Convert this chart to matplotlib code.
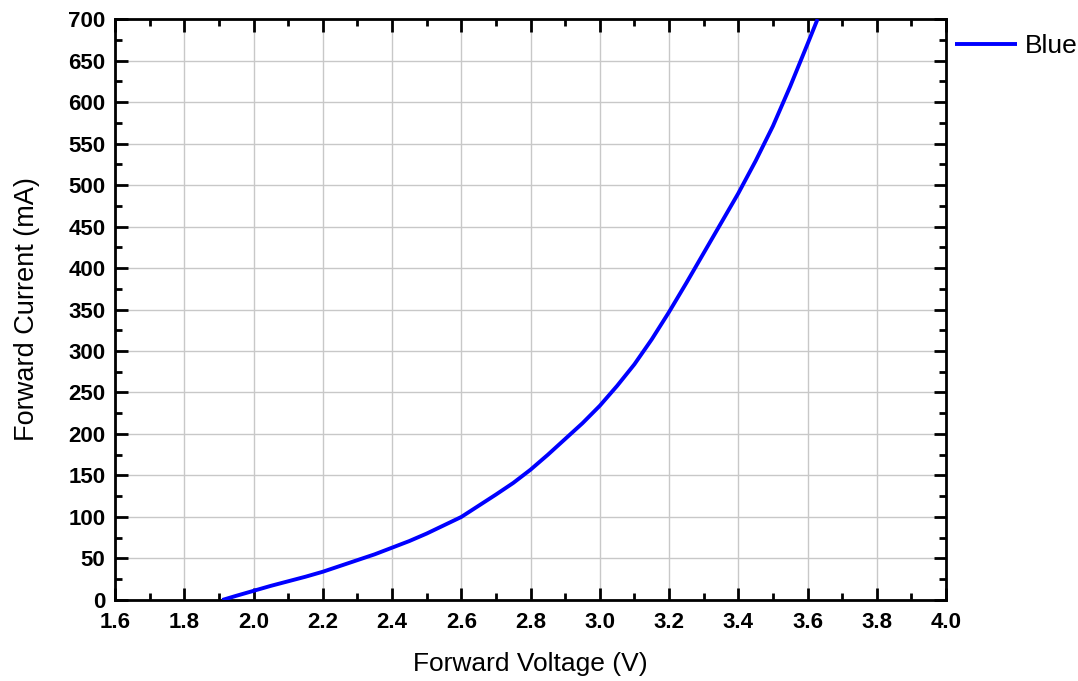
import matplotlib.pyplot as plt
from matplotlib.ticker import MultipleLocator

plt.rcParams['font.family'] = ['Liberation Sans', 'DejaVu Sans']

# forward voltage (V) vs forward current (mA), blue LED
voltage = [1.91, 1.95, 2.0, 2.05, 2.1, 2.15, 2.2, 2.25, 2.3, 2.35, 2.4,
           2.45, 2.5, 2.55, 2.6, 2.65, 2.7, 2.75, 2.8, 2.85, 2.9, 2.95,
           3.0, 3.05, 3.1, 3.15, 3.2, 3.25, 3.3, 3.35, 3.4, 3.45, 3.5,
           3.55, 3.6, 3.629]
current = [0, 5, 11, 17, 22.5, 28, 34, 41, 48, 55, 63,
           71, 80, 90, 100, 113.5, 127, 141, 157, 175, 194, 213,
           234, 258, 284, 314, 347, 382, 418, 454, 490, 529, 571,
           619, 670, 700]
series_name = "Blue"


def main():
    fig = plt.figure(figsize=(10.78, 6.81), dpi=100)
    ax = fig.add_axes([0.1067, 0.119, 0.7709, 0.853])

    ax.plot(voltage, current, color="#0000ff", lw=2.8, label=series_name,
            solid_capstyle="butt", solid_joinstyle="round", zorder=3)

    ax.set_xlim(1.6, 4.0)
    ax.set_ylim(0, 700)
    ax.xaxis.set_major_locator(MultipleLocator(0.2))
    ax.xaxis.set_minor_locator(MultipleLocator(0.1))
    ax.yaxis.set_major_locator(MultipleLocator(50))
    ax.yaxis.set_minor_locator(MultipleLocator(25))
    ax.xaxis.set_major_formatter(plt.FuncFormatter(lambda v, p: f"{v:.1f}"))

    ax.grid(True, which="major", color="#c8c8c8", lw=1.0)
    ax.set_axisbelow(True)

    for s in ax.spines.values():
        s.set_linewidth(2.0)
    ax.tick_params(which="both", direction="in", top=True, right=True,
                   width=2.0, labelsize=16)
    ax.tick_params(axis="x", pad=8.5)
    ax.tick_params(axis="y", pad=7)
    ax.tick_params(which="major", length=9)
    ax.tick_params(which="minor", length=5)
    for lab in ax.get_xticklabels() + ax.get_yticklabels():
        lab.set_fontweight("bold")

    ax.set_xlabel("Forward Voltage (V)", fontsize=19, labelpad=14)
    ax.set_ylabel("Forward Current (mA)", fontsize=19.5, labelpad=20)

    ax.legend(loc="upper left", bbox_to_anchor=(1.0, 0.99), frameon=False,
              fontsize=19, handlelength=2.35, handletextpad=0.3,
              borderpad=0.0, borderaxespad=0.35)

    fig.savefig("out.png", dpi=100)
    plt.close(fig)


if __name__ == "__main__":
    main()
